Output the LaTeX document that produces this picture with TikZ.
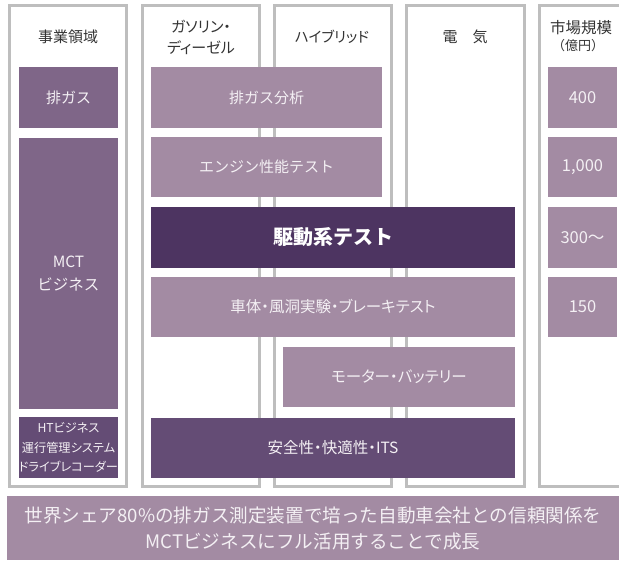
\documentclass[tikz,border=0pt]{standalone}
\usepackage{fontspec}
\setmainfont{Noto Sans CJK JP}
\newfontfamily\paltfont[RawFeature=+palt]{Noto Sans CJK JP}
\definecolor{framegray}{HTML}{BEBEBE}
\definecolor{midpurple}{HTML}{7F6688}
\definecolor{lightpurple}{HTML}{A38BA3}
\definecolor{darkpurple}{HTML}{4D3461}
\definecolor{deeppurple}{HTML}{644C75}
\definecolor{boxtext}{HTML}{F4F0F4}
\definecolor{headtext}{HTML}{333333}
\tikzset{
  colframe/.style={draw=framegray, line width=3pt, fill=white, inner sep=0pt},
  cell/.style={draw=none, inner sep=0pt, text=boxtext, align=center, font=\fontsize{15}{18}\selectfont},
  head/.style={inner sep=0pt, text=headtext, align=center, font=\fontsize{15}{20}\selectfont},
}
\begin{document}
\begin{tikzpicture}[x=1pt,y=-1pt]
\useasboundingbox (0,0) rectangle (619,561);
\clip (0,0) rectangle (619,561);
% column frames
\node[colframe, minimum width=117pt, minimum height=481pt] (c1) at (68,246) {};
\node[colframe, minimum width=117.5pt, minimum height=481pt] (c2) at (200.75,246) {};
\node[colframe, minimum width=117pt, minimum height=481pt] (c3) at (332.5,246) {};
\node[colframe, minimum width=118.5pt, minimum height=481pt] (c4) at (465.25,246) {};
\node[colframe, minimum width=121pt, minimum height=481pt] (c5) at (599.5,246) {};
% headers
\node[head] (h1) at (68,37) {事業領域};
\node[head, font=\paltfont\fontsize{15}{21}\selectfont] (h2) at (201,37.5) {ガソリン・\\ディーゼル};
\node[head, font=\paltfont\fontsize{14.5}{18}\selectfont] (h3) at (332,37) {ハイブリッド};
\node[head] (h4) at (465,37) {電　気};
\node[head, font=\fontsize{15.5}{18}\selectfont] (h5a) at (581,28) {市場規模};
\node[head, font=\fontsize{13}{16}\selectfont] (h5b) at (578,46) {（億円）};
% left column
\node[cell, fill=midpurple, minimum width=99pt, minimum height=61pt] (gas) at (68.5,97.5) {排ガス};
\node[cell, fill=midpurple, minimum width=99pt, minimum height=271pt, font=\fontsize{15.5}{23}\selectfont] (mct) at (68.5,274) {MCT\\ビジネス};
\node[cell, fill=deeppurple, minimum width=99pt, minimum height=60pt, font=\paltfont\fontsize{12.2}{19.5}\selectfont] (ht) at (68.5,447.5) {HTビジネス\\運行管理システム\\ドライブレコーダー};
% center
\node[cell, fill=lightpurple, minimum width=231pt, minimum height=61pt] (a1) at (266.5,97.5) {排ガス分析};
\node[cell, fill=lightpurple, minimum width=231pt, minimum height=60pt] (a2) at (266.5,167) {エンジン性能テスト};
\node[cell, fill=darkpurple, minimum width=364pt, minimum height=61pt, text=white, font=\fontsize{20}{24}\selectfont\bfseries] (a3) at (333,237.5) {駆動系テスト};
\node[cell, fill=lightpurple, minimum width=364pt, minimum height=60pt, font=\paltfont\fontsize{15.5}{18}\selectfont] (a4) at (333,307) {車体・風洞実験・ブレーキテスト};
\node[cell, fill=lightpurple, minimum width=232pt, minimum height=60pt, font=\paltfont\fontsize{15.5}{18}\selectfont] (a5) at (399,377) {モーター・バッテリー};
\node[cell, fill=deeppurple, minimum width=364pt, minimum height=60pt, font=\paltfont\fontsize{15.5}{18}\selectfont] (a6) at (333,448) {安全性・快適性・ITS};
% right
\node[cell, fill=lightpurple, minimum width=69pt, minimum height=61pt, font=\fontsize{16.5}{18}\selectfont] (r1) at (582.5,97.5) {400};
\node[cell, fill=lightpurple, minimum width=69pt, minimum height=60pt, font=\fontsize{16.5}{18}\selectfont] (r2) at (582.5,167) {1,000};
\node[cell, fill=lightpurple, minimum width=69pt, minimum height=61pt, font=\fontsize{16.5}{18}\selectfont] (r3) at (582.5,237.5) {300〜};
\node[cell, fill=lightpurple, minimum width=69pt, minimum height=60pt, font=\fontsize{16.5}{18}\selectfont] (r4) at (582.5,307) {150};
% banner
\node[cell, fill=lightpurple, minimum width=612pt, minimum height=64pt, font=\fontsize{18.6}{26}\selectfont] (ban) at (313,528) {世界シェア80\%の排ガス測定装置で培った自動車会社との信頼関係を\\MCTビジネスにフル活用することで成長};
\end{tikzpicture}
\end{document}
